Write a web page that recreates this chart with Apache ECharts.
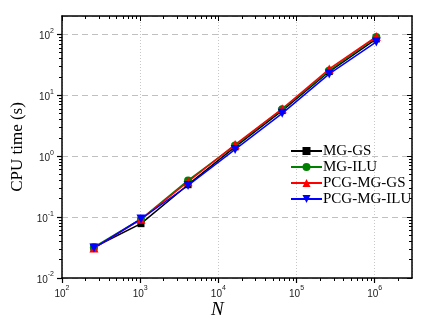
<!DOCTYPE html>
<html>
<head>
<meta charset="utf-8">
<script src="https://cdn.jsdelivr.net/npm/echarts@6/dist/echarts.min.js"></script>
<style>html,body{margin:0;padding:0;background:#fff;}#c{width:432px;height:325px;}</style>
</head>
<body>
<div id="c"></div>
<script>
const categoriesN = [256, 1024, 4096, 16384, 65536, 262144, 1048576];
const seriesNames = ['MG-GS', 'MG-ILU', 'PCG-MG-GS', 'PCG-MG-ILU'];
const mgGS = [0.032, 0.078, 0.34, 1.42, 5.6, 24.5, 84];
const mgILU = [0.032, 0.093, 0.40, 1.50, 5.9, 25.5, 90];
const pcgMgGS = [0.031, 0.092, 0.38, 1.55, 6.0, 27, 92];
const pcgMgILU = [0.031, 0.093, 0.33, 1.29, 5.05, 22.4, 75];
const xTickExponents = [2, 3, 4, 5, 6];
const yTickExponents = [-2, -1, 0, 1, 2];

const X_MIN = 100, X_MAX = 3e6, Y_MIN = 0.01, Y_MAX = 200;

function minorLogTicks(lo, hi) {
  const out = [];
  for (let e = Math.floor(Math.log10(lo)); e <= Math.ceil(Math.log10(hi)); e++) {
    for (let k = 2; k <= 9; k++) {
      const v = k * Math.pow(10, e);
      if (v > lo && v < hi) out.push(Math.log10(v));
    }
  }
  return out;
}
const xMinor = minorLogTicks(X_MIN, X_MAX);
const yMinor = minorLogTicks(Y_MIN, Y_MAX);

function pow10Label(v) {
  const e = Math.log10(v);
  const r = Math.round(e);
  if (Math.abs(e - r) > 1e-6) return '';
  return '{b|10}{s|' + r + '}';
}
const richLabel = {
  b: { fontSize: 10, fontFamily: 'Liberation Sans', color: '#222', lineHeight: 14, verticalAlign: 'bottom' },
  s: { fontSize: 7, fontFamily: 'Liberation Sans', color: '#222', verticalAlign: 'top', lineHeight: 14 }
};

const frameLine = { show: true, onZero: false, lineStyle: { color: '#000', width: 1.5 } };
const noLine = { show: false, onZero: false };
function tickAxisX(position, values, len, inside, showLine) {
  return {
    type: 'value', position: position, min: Math.log10(X_MIN), max: Math.log10(X_MAX),
    axisLine: showLine ? frameLine : noLine, axisLabel: { show: false }, splitLine: { show: false },
    axisTick: { show: true, inside: inside, length: len, customValues: values, lineStyle: { color: '#000', width: 1 } }
  };
}
function tickAxisY(position, values, len, inside, showLine) {
  return {
    type: 'value', position: position, min: Math.log10(Y_MIN), max: Math.log10(Y_MAX),
    axisLine: showLine ? frameLine : noLine, axisLabel: { show: false }, splitLine: { show: false },
    axisTick: { show: true, inside: inside, length: len, customValues: values, lineStyle: { color: '#000', width: 1 } }
  };
}

const chart = echarts.init(document.getElementById('c'), null, { renderer: 'canvas' });
chart.setOption({
  backgroundColor: '#fff',
  animation: false,
  grid: { left: 62, right: 20, top: 16, bottom: 47, containLabel: false },
  legend: {
    orient: 'vertical', left: 285, top: 138,
    itemWidth: 31, itemHeight: 10, itemGap: 0,
    textStyle: { fontFamily: 'Liberation Serif', fontSize: 15, color: '#000', lineHeight: 16, padding: [0, 0, 0, -4] },
    data: seriesNames
  },
  xAxis: [
    {
      type: 'log', logBase: 10, min: X_MIN, max: X_MAX, position: 'bottom',
      axisLine: frameLine,
      axisTick: { show: true, inside: false, length: 5, lineStyle: { color: '#000', width: 1.2 } },
      axisLabel: { formatter: pow10Label, rich: richLabel, margin: 7, showMaxLabel: false, showMinLabel: true },
      splitLine: { show: true, lineStyle: { color: '#c8c8c8', type: [1, 2], width: 1 } }
    },
    tickAxisX('bottom', xMinor, 3, false, false),
    tickAxisX('top', xTickExponents, 5, true, true),
    tickAxisX('top', xMinor, 3, true, false)
  ],
  yAxis: [
    {
      type: 'log', logBase: 10, min: Y_MIN, max: Y_MAX, position: 'left',
      axisLine: frameLine,
      axisTick: { show: true, inside: false, length: 5, lineStyle: { color: '#000', width: 1.2 } },
      axisLabel: { formatter: pow10Label, rich: richLabel, margin: 8, showMaxLabel: false },
      splitLine: { show: true, lineStyle: { color: '#c0c0c0', type: [6, 4], width: 1 } },
      name: 'CPU time (s)', nameLocation: 'middle', nameGap: 34,
      nameTextStyle: { fontFamily: 'Liberation Serif', fontSize: 17, color: '#000' }
    },
    tickAxisY('left', yMinor, 3, false, false),
    tickAxisY('right', yTickExponents, 5, true, true),
    tickAxisY('right', yMinor, 3, true, false)
  ],
  graphic: [{
    type: 'text', left: 211, top: 300, silent: true,
    style: { text: 'N', fontFamily: 'Liberation Serif', fontStyle: 'italic', fontSize: 19, fill: '#000' }
  }],
  series: [
    { name: 'MG-GS', type: 'line', data: categoriesN.map((n, i) => [n, mgGS[i]]), symbol: 'rect', symbolSize: 7,
      itemStyle: { color: '#000' }, lineStyle: { color: '#000', width: 1.5 } },
    { name: 'MG-ILU', type: 'line', data: categoriesN.map((n, i) => [n, mgILU[i]]), symbol: 'circle', symbolSize: 8,
      itemStyle: { color: '#008000' }, lineStyle: { color: '#008000', width: 1.5 } },
    { name: 'PCG-MG-GS', type: 'line', data: categoriesN.map((n, i) => [n, pcgMgGS[i]]), symbol: 'triangle', symbolSize: 9,
      itemStyle: { color: '#ff0000' }, lineStyle: { color: '#ff0000', width: 1.5 } },
    { name: 'PCG-MG-ILU', type: 'line', data: categoriesN.map((n, i) => [n, pcgMgILU[i]]), symbol: 'triangle', symbolRotate: 180, symbolSize: 9,
      itemStyle: { color: '#0000ff' }, lineStyle: { color: '#0000ff', width: 1.5 } }
  ]
});
</script>
</body>
</html>
